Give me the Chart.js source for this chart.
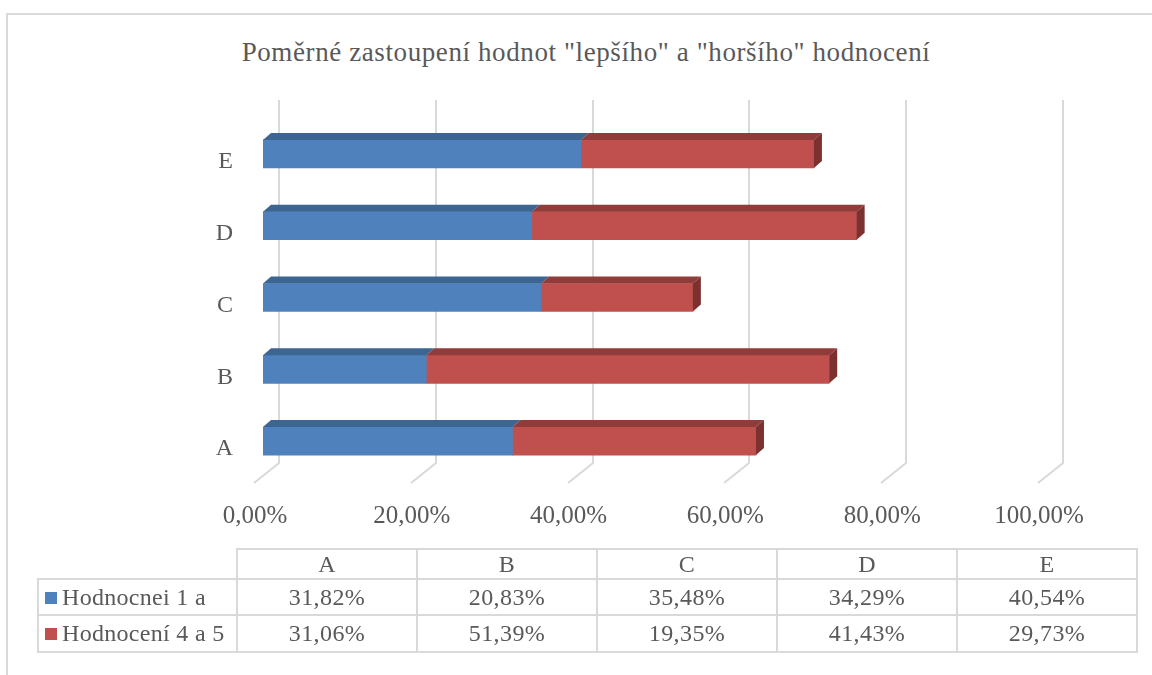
<!DOCTYPE html>
<html><head><meta charset="utf-8">
<script src="https://cdn.jsdelivr.net/npm/chart.js@4.4.1/dist/chart.umd.min.js"></script>
<style>
html,body{margin:0;padding:0;background:#fff;}
#wrap{position:relative;width:1152px;height:675px;overflow:hidden;font-family:"Liberation Serif",serif;color:#595959;}
#frame{position:absolute;left:6px;top:13px;width:1170px;height:700px;border:2px solid #d9d9d9;box-sizing:border-box;}
#c{position:absolute;left:0;top:0;}
#title{position:absolute;left:0;width:1172px;top:36px;text-align:center;font-size:27px;letter-spacing:0.6px;line-height:32px;white-space:nowrap;}
#tbl{position:absolute;left:37px;top:548px;border-collapse:collapse;font-size:24px;letter-spacing:0.4px;color:#595959;table-layout:fixed;}
#tbl td{border:2px solid #d9d9d9;text-align:center;padding:0;white-space:nowrap;overflow:hidden;}
#tbl td.name{text-align:left;padding-left:6px;letter-spacing:0.3px;}
#tbl td.corner{border-top:none;border-left:none;}
.key{display:inline-block;width:12px;height:12px;margin-right:5px;vertical-align:1px;}
</style></head>
<body><div id="wrap">
<div id="frame"></div>
<div id="title">Poměrné zastoupení hodnot "lepšího" a "horšího" hodnocení</div>
<canvas id="c" width="1152" height="675"></canvas>
<table id="tbl"></table>
</div>
<script>
const categories = ['A','B','C','D','E'];
const seriesNames = ['Hodnocnei 1 a','Hodnocení 4 a 5'];
const goodValues = [31.82,20.83,35.48,34.29,40.54];
const badValues = [31.06,51.39,19.35,41.43,29.73];
const xTickValues = [0,20,40,60,80,100];

const fmt = v => v.toFixed(2).replace('.', ',') + '%';
const front = ['#4f81bd','#c0504d'];
const topc = ['#3d6592','#8f3c3b'];
const sidec = ['#36597f','#7b3130'];

// data table
const tbl = document.getElementById('tbl');
const colW = [199,180,180,180,180,180];
const rowH = [30,36,37];
let html = '<colgroup>' + colW.map(w=>'<col style="width:'+w+'px">').join('') + '</colgroup>';
html += '<tr style="height:'+rowH[0]+'px"><td class="corner"></td>' + categories.map(c=>'<td>'+c+'</td>').join('') + '</tr>';
[goodValues,badValues].forEach((arr,i)=>{
  html += '<tr style="height:'+rowH[i+1]+'px"><td class="name"><span class="key" style="background:'+front[i]+'"></span>'+seriesNames[i]+'</td>' + arr.map(v=>'<td>'+fmt(v)+'</td>').join('') + '</tr>';
});
tbl.innerHTML = html;

const threeD = {
  id: 'threeD',
  beforeDatasetsDraw(chart){
    const ctx = chart.ctx, xs = chart.scales.x;
    ctx.save();
    ctx.strokeStyle = '#d9d9d9';
    ctx.lineWidth = 2;
    xTickValues.forEach(v=>{
      const bx = Math.round(xs.getPixelForValue(v)) + 16;
      ctx.beginPath();
      ctx.moveTo(bx, 100);
      ctx.lineTo(bx, 463);
      ctx.lineTo(bx - 25, 483);
      ctx.stroke();
    });
    ctx.restore();
  },
  afterDatasetsDraw(chart){
    const ctx = chart.ctx;
    const dx = 8, dy = 7;
    ctx.save();
    chart.data.datasets.forEach((ds, i)=>{
      const meta = chart.getDatasetMeta(i);
      meta.data.forEach(bar=>{
        const p = bar.getProps(['x','base','y','height'], true);
        const l = Math.min(p.x, p.base), r = Math.max(p.x, p.base);
        const t = p.y - p.height/2, b = p.y + p.height/2;
        ctx.fillStyle = topc[i];
        ctx.beginPath();
        ctx.moveTo(l, t); ctx.lineTo(r, t); ctx.lineTo(r+dx, t-dy); ctx.lineTo(l+dx, t-dy); ctx.closePath();
        ctx.fill();
        if (i === chart.data.datasets.length - 1) {
          ctx.fillStyle = sidec[i];
          ctx.beginPath();
          ctx.moveTo(r, t); ctx.lineTo(r+dx, t-dy); ctx.lineTo(r+dx, b-dy); ctx.lineTo(r, b); ctx.closePath();
          ctx.fill();
        }
      });
    });
    ctx.restore();
  }
};

new Chart(document.getElementById('c'), {
  type: 'bar',
  data: {
    labels: categories,
    datasets: [
      {label: seriesNames[0], data: goodValues, backgroundColor: front[0], barThickness: 28, borderWidth: 0},
      {label: seriesNames[1], data: badValues, backgroundColor: front[1], barThickness: 28, borderWidth: 0}
    ]
  },
  options: {
    indexAxis: 'y',
    responsive: false,
    animation: false,
    layout: {padding: {left: 0, right: 105, top: 118, bottom: 135}},
    plugins: {legend: {display: false}, tooltip: {enabled: false}, title: {display: false}},
    scales: {
      x: {
        stacked: true, min: 0, max: 100,
        afterBuildTicks(scale){ scale.ticks = xTickValues.map(v=>({value: v})); },
        afterFit(scale){ scale.height = 63; },
        grid: {display: false, drawTicks: false},
        border: {display: false},
        ticks: {
          callback: v => fmt(v), color: '#595959', padding: 24, labelOffset: -8,
          maxRotation: 0, autoSkip: false,
          font: {family: '"Liberation Serif", serif', size: 25}
        }
      },
      y: {
        stacked: true, reverse: true,
        afterFit(scale){ scale.width = 263; },
        grid: {display: false, drawTicks: false},
        border: {display: false},
        ticks: {color: '#595959', padding: 30, labelOffset: 8,
          font: {family: '"Liberation Serif", serif', size: 24}}
      }
    }
  },
  plugins: [threeD]
});
</script>
</body></html>
